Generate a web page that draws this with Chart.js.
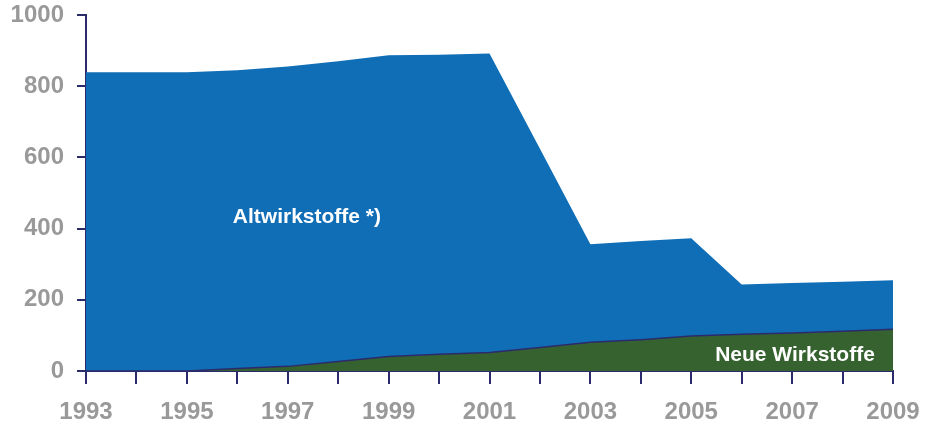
<!DOCTYPE html>
<html>
<head>
<meta charset="utf-8">
<script src="https://cdn.jsdelivr.net/npm/chart.js@4/dist/chart.umd.min.js"></script>
<style>
  body { margin: 0; background: #fff; }
</style>
</head>
<body>
<canvas id="areaChart" width="928" height="423"></canvas>
<script>
var years = ['1993', '1994', '1995', '1996', '1997', '1998', '1999', '2000', '2001', '2002', '2003', '2004', '2005', '2006', '2007', '2008', '2009'];
var xTickLabels = ['1993', '', '1995', '', '1997', '', '1999', '', '2001', '', '2003', '', '2005', '', '2007', '', '2009'];
var neueWirkstoffe = [0, 0, 0, 7, 13, 27, 41, 47, 52, 66, 81, 88, 98, 103, 107, 112, 117];
var altWirkstoffe = [839, 839, 839, 838, 842, 843, 846, 841, 840, 558, 275, 277, 275, 140, 140, 139, 138];
var yTicks = [0, 200, 400, 600, 800, 1000];

var navy = '#2b2a6b';
var grey = '#999999';

var areaLabels = {
    id: 'areaLabels',
    afterDatasetsDraw: function (chart) {
        var ctx = chart.ctx;
        var x = chart.scales.x;
        var y = chart.scales.y;
        ctx.save();
        ctx.fillStyle = '#ffffff';
        ctx.font = 'bold 21px "Liberation Sans", Arial, sans-serif';
        ctx.textBaseline = 'middle';
        ctx.textAlign = 'center';
        ctx.fillText('Altwirkstoffe *)', x.getPixelForValue(4.38), y.getPixelForValue(433));
        ctx.textAlign = 'right';
        ctx.fillText('Neue Wirkstoffe', x.getPixelForValue(15.64), y.getPixelForValue(44));
        ctx.restore();
    }
};

var chart = new Chart(document.getElementById('areaChart'), {
    type: 'line',
    data: {
        labels: years,
        datasets: [{
            label: 'Neue Wirkstoffe',
            data: neueWirkstoffe,
            backgroundColor: '#366230',
            borderColor: navy,
            borderWidth: 1.5,
            fill: 'origin',
            pointRadius: 0,
            tension: 0
        }, {
            label: 'Altwirkstoffe *)',
            data: altWirkstoffe,
            backgroundColor: '#106eb6',
            borderColor: 'rgba(0,0,0,0)',
            borderWidth: 0,
            fill: '-1',
            pointRadius: 0,
            tension: 0
        }]
    },
    options: {
        responsive: false,
        animation: false,
        layout: { padding: { left: 0, top: 15, right: 35, bottom: 0 } },
        plugins: {
            legend: { display: false },
            tooltip: { enabled: false }
        },
        scales: {
            x: {
                offset: false,
                afterFit: function (scale) {
                    scale.height = 52;
                    scale.paddingLeft = 0;
                    scale.paddingRight = 0;
                },
                grid: { display: true, drawOnChartArea: false, drawTicks: true, tickLength: 13, color: navy, lineWidth: 2 },
                border: { display: true, color: navy, width: 2 },
                ticks: {
                    autoSkip: false,
                    maxRotation: 0,
                    padding: 14,
                    color: grey,
                    font: { family: '"Liberation Sans", Arial, sans-serif', size: 24, weight: 'bold' },
                    callback: function (v, i) { return xTickLabels[i]; }
                }
            },
            y: {
                stacked: true,
                min: 0,
                max: 1000,
                afterFit: function (scale) {
                    scale.width = 86;
                    scale.paddingTop = 0;
                    scale.paddingBottom = 0;
                },
                afterBuildTicks: function (scale) {
                    scale.ticks = yTicks.map(function (v) { return { value: v }; });
                },
                grid: { display: true, drawOnChartArea: false, drawTicks: true, tickLength: 9, color: navy, lineWidth: 2 },
                border: { display: true, color: navy, width: 2 },
                ticks: {
                    padding: 13,
                    color: grey,
                    font: { family: '"Liberation Sans", Arial, sans-serif', size: 24, weight: 'bold' },
                    callback: function (v) { return String(v); }
                }
            }
        }
    },
    plugins: [areaLabels]
});
</script>
</body>
</html>
